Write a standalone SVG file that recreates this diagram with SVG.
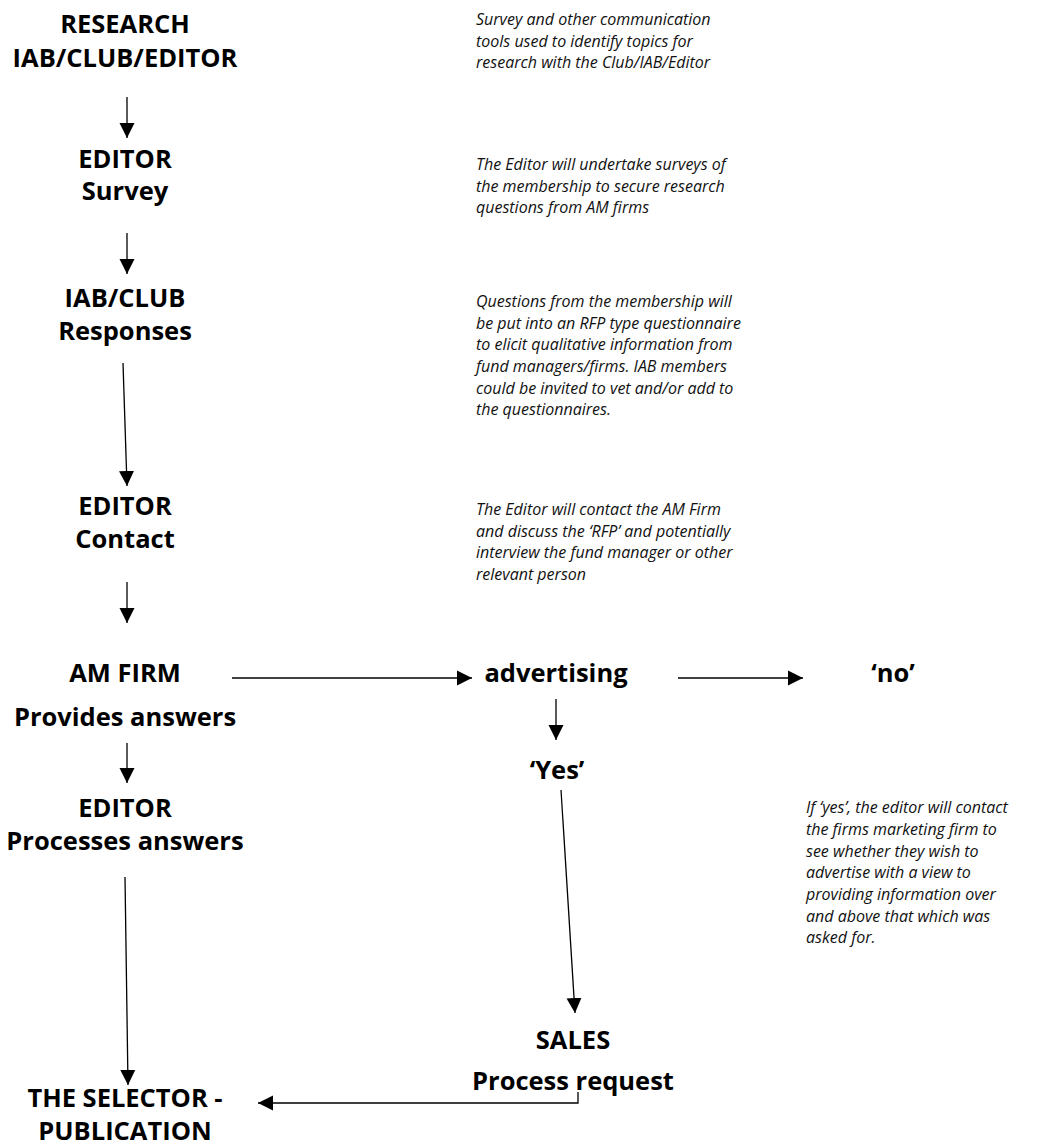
<svg xmlns="http://www.w3.org/2000/svg" width="1052" height="1145" viewBox="0 0 1052 1145">
<defs>
<marker id="ah" markerUnits="userSpaceOnUse" markerWidth="16" markerHeight="16" refX="15" refY="7.5" orient="auto" viewBox="0 0 16 15">
<path d="M0,0 L15,7.5 L0,15 z" fill="#000"/>
</marker>
<style>
.b{font-family:"Open Sans","Noto Sans","DejaVu Sans",sans-serif;font-weight:bold;font-size:25.5px;fill:#000;text-anchor:middle}
.i{font-family:"Open Sans","Noto Sans","DejaVu Sans",sans-serif;font-style:italic;font-size:16px;fill:#111}
.c{stroke:#000;stroke-width:1.3;fill:none;marker-end:url(#ah)}
</style>
</defs>
<rect width="1052" height="1145" fill="#fff"/>
<g id="n-research"><text class="b" x="125" y="33">RESEARCH</text><text class="b" x="125" y="67">IAB/CLUB/EDITOR</text></g>
<g id="n-editor-survey"><text class="b" x="125" y="168">EDITOR</text><text class="b" x="125" y="200">Survey</text></g>
<g id="n-iab-responses"><text class="b" x="125" y="307">IAB/CLUB</text><text class="b" x="125" y="340">Responses</text></g>
<g id="n-editor-contact"><text class="b" x="125" y="515">EDITOR</text><text class="b" x="125" y="548">Contact</text></g>
<g id="n-amfirm"><text class="b" x="125" y="682">AM FIRM</text><text class="b" x="125" y="726">Provides answers</text></g>
<g id="n-editor-process"><text class="b" x="125" y="817">EDITOR</text><text class="b" x="125" y="850">Processes answers</text></g>
<g id="n-selector"><text class="b" x="125" y="1107">THE SELECTOR -</text><text class="b" x="125" y="1140">PUBLICATION</text></g>
<g id="n-advertising"><text class="b" x="556" y="682">advertising</text></g>
<g id="n-no"><text class="b" x="893" y="682">‘no’</text></g>
<g id="n-yes"><text class="b" x="557" y="779">‘Yes’</text></g>
<g id="n-sales"><text class="b" x="573" y="1049">SALES</text><text class="b" x="573" y="1090">Process request</text></g>
<g id="notes">
<text class="i" x="476" y="25">Survey and other communication</text>
<text class="i" x="476" y="47">tools used to identify topics for</text>
<text class="i" x="476" y="68">research with the Club/IAB/Editor</text>
<text class="i" x="476" y="170">The Editor will undertake surveys of</text>
<text class="i" x="476" y="192">the membership to secure research</text>
<text class="i" x="476" y="213">questions from AM firms</text>
<text class="i" x="476" y="307">Questions from the membership will</text>
<text class="i" x="476" y="329">be put into an RFP type questionnaire</text>
<text class="i" x="476" y="350">to elicit qualitative information from</text>
<text class="i" x="476" y="372">fund managers/firms. IAB members</text>
<text class="i" x="476" y="394">could be invited to vet and/or add to</text>
<text class="i" x="476" y="415">the questionnaires.</text>
<text class="i" x="476" y="515">The Editor will contact the AM Firm</text>
<text class="i" x="476" y="537">and discuss the ‘RFP’ and potentially</text>
<text class="i" x="476" y="558">interview the fund manager or other</text>
<text class="i" x="476" y="580">relevant person</text>
<text class="i" x="806" y="813">If ‘yes’, the editor will contact</text>
<text class="i" x="806" y="835">the firms marketing firm to</text>
<text class="i" x="806" y="857">see whether they wish to</text>
<text class="i" x="806" y="878">advertise with a view to</text>
<text class="i" x="806" y="900">providing information over</text>
<text class="i" x="806" y="922">and above that which was</text>
<text class="i" x="806" y="943">asked for.</text>
</g>
<g id="connectors">
<line class="c" x1="127" y1="97" x2="127" y2="138"/>
<line class="c" x1="127" y1="233" x2="127" y2="274"/>
<line class="c" x1="123" y1="363" x2="127" y2="486"/>
<line class="c" x1="127" y1="582" x2="127" y2="623"/>
<line class="c" x1="232" y1="678" x2="472" y2="678"/>
<line class="c" x1="678" y1="678" x2="803" y2="678"/>
<line class="c" x1="127" y1="743" x2="127" y2="783"/>
<line class="c" x1="556" y1="699" x2="556" y2="740"/>
<line class="c" x1="125" y1="877" x2="128" y2="1085"/>
<line class="c" x1="561" y1="790" x2="575" y2="1013"/>
<polyline class="c" points="578,1092 578,1103 258,1103"/>
</g>
</svg>
